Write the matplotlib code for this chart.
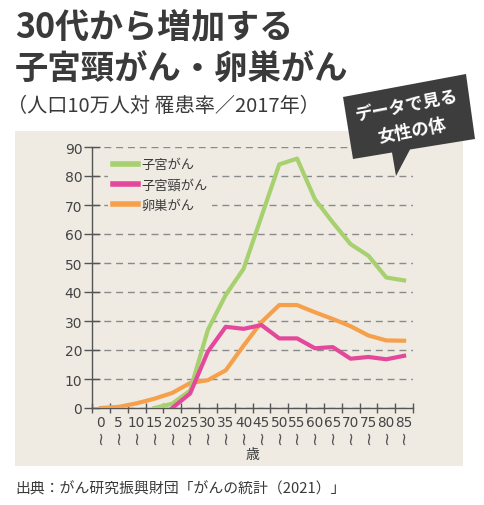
import numpy as np
import matplotlib
matplotlib.use('Agg')
from matplotlib import pyplot as plt
from matplotlib.patches import Rectangle, Polygon

plt.rcParams['font.family'] = ['Noto Sans CJK JP', 'DejaVu Sans']

# age groups (5-year bins, 0-4 ... 85+)
ages = ['0', '5', '10', '15', '20', '25', '30', '35', '40', '45',
        '50', '55', '60', '65', '70', '75', '80', '85']
# incidence per 100,000 women, 2017
uterus = [np.nan, np.nan, np.nan, 0, 1.5, 6, 27, 39, 48, 66,
          84, 86, 72, 64, 56.5, 52.5, 45, 44]
cervix = [np.nan, np.nan, np.nan, np.nan, 0, 5, 19.5, 28, 27.3, 28.6,
          24, 24, 20.6, 21, 17, 17.6, 16.8, 18]
ovary = [0, 0.4, 1.6, 3.2, 5.2, 8.6, 9.6, 13, 21.5, 29.6,
         35.5, 35.5, 33, 30.7, 28.2, 25, 23.3, 23.2]
series_names = ['子宮がん', '子宮頸がん', '卵巣がん']
colors = ['#a6d16e', '#e4489a', '#f6a04b']

panel = '#efebe3'
txt = '#3a3a3a'

fig = plt.figure(figsize=(4.84, 5.06), dpi=100)

# pixel-coordinate layer for background panel and headings
bg = fig.add_axes([0, 0, 1, 1], zorder=0)
bg.set_xlim(0, 484)
bg.set_ylim(506, 0)
bg.axis('off')
bg.add_patch(Rectangle((15, 132), 448, 335, facecolor=panel, edgecolor='none'))
bg.text(15, 27, '30代から増加する', fontsize=24.5, fontweight='bold', color=txt,
        ha='left', va='center')
bg.text(15, 70, '子宮頸がん・卵巣がん', fontsize=24, fontweight='bold', color=txt,
        ha='left', va='center')
bg.text(7, 106, '（人口10万人対 罹患率／2017年）', fontsize=14.5, color=txt,
        ha='left', va='center')
bg.text(15, 489, '出典：がん研究振興財団「がんの統計（2021）」', fontsize=10.7, color=txt,
        ha='left', va='center')

ax = fig.add_axes([92 / 484, 1 - 409 / 506, 321 / 484, 261 / 506], zorder=1)
ax.patch.set_alpha(0)
x = np.arange(len(ages))
ax.plot(x, ovary, color=colors[2], lw=3, label=series_names[2], zorder=3, solid_joinstyle='round')
ax.plot(x, uterus, color=colors[0], lw=3, label=series_names[0], zorder=4, solid_joinstyle='round')
ax.plot(x, cervix, color=colors[1], lw=3, label=series_names[1], zorder=5, solid_joinstyle='round')

ax.set_xlim(-0.5, len(ages) - 0.5)
ax.set_ylim(0, 90)
ax.set_yticks(range(0, 91, 10))
ax.yaxis.grid(True, color='#8a8a8a', linestyle=(0, (5, 3.5)), linewidth=1)
ax.set_axisbelow(True)
for s in ['top', 'right']:
    ax.spines[s].set_visible(False)
for s in ['left', 'bottom']:
    ax.spines[s].set_color('#555555')
    ax.spines[s].set_linewidth(1)
ax.tick_params(axis='y', direction='inout', length=12, width=1, color='#555555',
               labelsize=10, labelcolor='#444444', pad=1)
for lab in ax.get_yticklabels():
    lab.set_fontfamily('DejaVu Sans')

ax.set_xticks(x)
ax.set_xticklabels(ages, fontfamily='DejaVu Sans')
ax.set_xticks(np.arange(-0.5, len(ages), 1), minor=True)
ax.tick_params(axis='x', which='major', length=0, labelsize=9.8, labelcolor='#444444', pad=5)
ax.tick_params(axis='x', which='minor', direction='inout', length=7, width=1, color='#555555')
for i in x:
    ax.text(i, -0.108, '~', rotation=90, fontsize=13, color='#555555', fontfamily='DejaVu Sans',
            ha='center', va='center', transform=ax.get_xaxis_transform())
ax.set_xlabel('歳', fontsize=10, color=txt, labelpad=13)

h, l = ax.get_legend_handles_labels()
order = [1, 2, 0]
leg = ax.legend([h[k] for k in order], [l[k] for k in order], loc='upper left',
                bbox_to_anchor=(0.05, 0.975), fontsize=9.5, handlelength=1.9,
                handletextpad=0.25, labelspacing=0.55, borderpad=0.35, borderaxespad=0,
                frameon=True, fancybox=False, facecolor=panel, edgecolor='none', framealpha=1)
for t in leg.get_texts():
    t.set_color(txt)
for ln in leg.get_lines():
    ln.set_linewidth(4)

# speech bubble on top
fg = fig.add_axes([0, 0, 1, 1], zorder=5)
fg.set_xlim(0, 484)
fg.set_ylim(506, 0)
fg.axis('off')
fg.patch.set_alpha(0)
fg.add_patch(Polygon([(343, 98), (466, 75), (475, 140), (410, 150.5), (396, 177),
                      (392, 153.5), (353, 160)], closed=True,
                     facecolor='#3d3d3d', edgecolor='none'))
fg.text(407, 106, 'データで見る', fontsize=12.5, fontweight='bold', color='white',
        rotation=11, ha='center', va='center', rotation_mode='anchor')
fg.text(412, 131, '女性の体', fontsize=12.5, fontweight='bold', color='white',
        rotation=11, ha='center', va='center', rotation_mode='anchor')

fig.savefig('out.png', dpi=100)
